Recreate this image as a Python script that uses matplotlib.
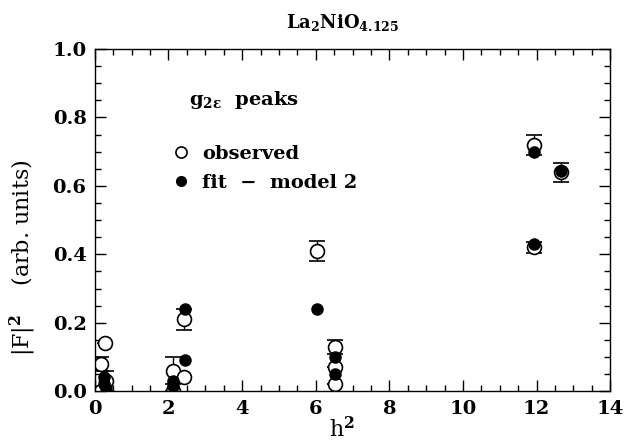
import matplotlib
matplotlib.use("Agg")
import matplotlib.pyplot as plt
from matplotlib.ticker import MultipleLocator

# observed |F|^2 with error bars
obs_h = [0.17, 0.28, 0.17, 0.30, 2.12, 2.12, 2.43, 2.43, 6.03, 6.52, 6.52, 6.52, 11.93, 11.93, 12.65]
obs_F = [0.08, 0.14, 0.00, 0.03, 0.06, 0.00, 0.21, 0.04, 0.41, 0.13, 0.07, 0.02, 0.72, 0.42, 0.64]
obs_err = [0.02, 0.0, 0.0, 0.03, 0.04, 0.0, 0.03, 0.0, 0.03, 0.02, 0.0, 0.0, 0.03, 0.015, 0.028]

# fit - model 2
fit_h = [0.25, 0.25, 0.30, 2.12, 2.12, 2.45, 2.45, 6.03, 6.52, 6.52, 11.93, 11.93, 12.65]
fit_F = [0.04, 0.02, 0.01, 0.03, 0.015, 0.24, 0.09, 0.24, 0.10, 0.05, 0.70, 0.43, 0.645]

plt.rcParams['font.family'] = 'DejaVu Serif'
plt.rcParams['font.weight'] = 'bold'
plt.rcParams['mathtext.fontset'] = 'custom'
plt.rcParams['mathtext.rm'] = 'DejaVu Serif:bold'
plt.rcParams['mathtext.it'] = 'DejaVu Serif:bold'
plt.rcParams['mathtext.bf'] = 'DejaVu Serif:bold'

fig = plt.figure(figsize=(6.24, 4.42), dpi=100)
ax = fig.add_axes([0.152, 0.115, 0.826, 0.774])

ax.errorbar(obs_h, obs_F, yerr=obs_err, fmt='o', ms=10, mfc='white', mec='black',
            mew=1.2, ecolor='black', elinewidth=1.0, capsize=6, capthick=1.0,
            zorder=2)
ax.plot(fit_h, fit_F, 'o', ms=8, color='black', zorder=3)

# legend proxies
h_obs, = ax.plot([], [], 'o', ms=8, mfc='white', mec='black', mew=1.2)
h_fit, = ax.plot([], [], 'o', ms=7, color='black')

ax.set_xlim(0, 14)
ax.set_ylim(0, 1.0)
ax.xaxis.set_major_locator(MultipleLocator(2))
ax.xaxis.set_minor_locator(MultipleLocator(0.5))
ax.yaxis.set_major_locator(MultipleLocator(0.2))
ax.yaxis.set_minor_locator(MultipleLocator(0.05))
ax.yaxis.set_major_formatter(matplotlib.ticker.FormatStrFormatter('%.1f'))
ax.tick_params(which='both', direction='in', top=True, right=True, labelsize=14, width=1.0)
ax.tick_params(which='major', length=8, pad=6)
ax.tick_params(which='minor', length=4)
for s in ax.spines.values():
    s.set_linewidth(1.0)

ax.set_xlabel('h$^2$', fontsize=16)
ax.xaxis.set_label_coords(0.48, -0.075)
ax.set_ylabel('|F|$^2$    (arb. units)', fontsize=16)
ax.yaxis.set_label_coords(-0.11, 0.39)
ax.set_title('La$_2$NiO$_{4.125}$', fontsize=13, fontweight='bold', pad=15, x=0.48)

ax.text(2.55, 0.85, 'g$_{2\\epsilon}$  peaks', fontsize=14, va='center')
ax.legend([h_obs, h_fit], ['observed', 'fit  \u2212  model 2'],
          loc='upper left', bbox_to_anchor=(0.11, 0.77), frameon=False, fontsize=14,
          handletextpad=0.5, labelspacing=0.55, handlelength=1.2, numpoints=1)

fig.savefig('out.png', dpi=100)
